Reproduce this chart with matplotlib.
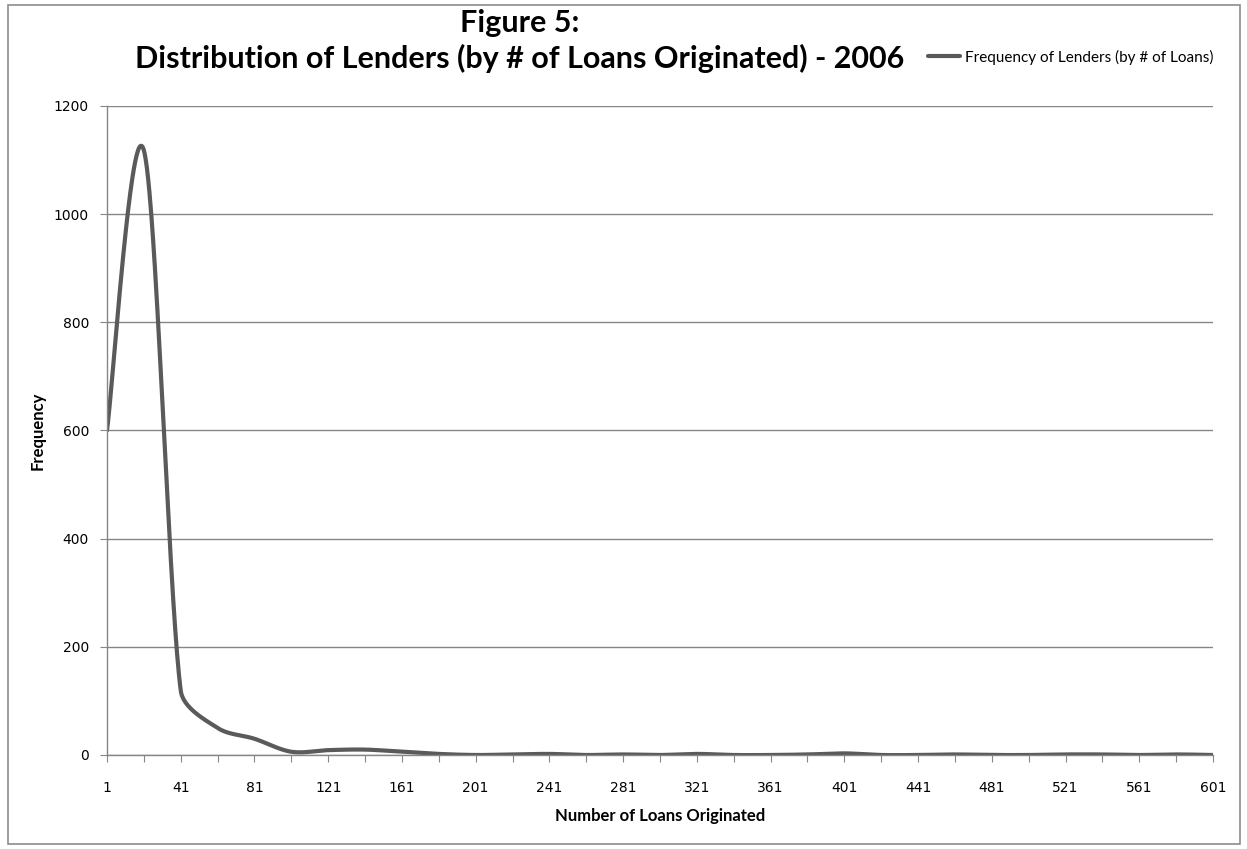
import numpy as np
import matplotlib
matplotlib.use("Agg")
import matplotlib.pyplot as plt
from matplotlib.patches import Rectangle

# Bins of loans originated (lower bound of each 20-loan bin)
bins = list(range(1, 602, 20))
# Number of lenders in each bin
frequency = [600, 1118, 119, 50, 30, 6, 9, 10, 6, 2,
             0, 1, 2, 0, 1, 0, 2, 0, 0, 1,
             3, 0, 0, 1, 0, 0, 1, 1, 0, 1, 0]

title_lines = ["Figure 5:", "Distribution of Lenders (by # of Loans Originated) - 2006"]
series_name = "Frequency of Lenders (by # of Loans)"
x_title = "Number of Loans Originated"
y_title = "Frequency"

W, H = 1247, 849
left, right, top, bottom = 107, 1213, 106, 755
Y_MAX = 1200


def smooth_curve(xs, ys, sx, sy, steps=60):
    """Catmull-Rom style Bezier through every point, computed in screen units;
    each handle is capped at a third of its own segment to avoid overshoot."""
    px = np.asarray(xs, float) * sx
    py = np.asarray(ys, float) * sy
    pts = np.column_stack([px, py])
    n = len(pts)
    tang = np.array([(pts[min(i + 1, n - 1)] - pts[max(i - 1, 0)]) / 6.0 for i in range(n)])

    def capped(vec, limit):
        ln = np.hypot(*vec)
        return vec if ln <= limit or ln == 0 else vec * (limit / ln)

    t = np.linspace(0, 1, steps, endpoint=False)[:, None]
    out = []
    for i in range(n - 1):
        p1, p2 = pts[i], pts[i + 1]
        seg = np.hypot(*(p2 - p1))
        c1 = p1 + capped(tang[i], seg / 3.0)
        c2 = p2 - capped(tang[i + 1], seg / 3.0)
        b = (1 - t) ** 3 * p1 + 3 * (1 - t) ** 2 * t * c1 + 3 * (1 - t) * t ** 2 * c2 + t ** 3 * p2
        out.append(b)
    out.append(pts[-1][None, :])
    out = np.vstack(out)
    return out[:, 0] / sx, out[:, 1] / sy


fig = plt.figure(figsize=(W / 100, H / 100), dpi=100)
fig.patch.set_facecolor("white")

# outer chart border
fig.add_artist(Rectangle((8 / W, 5 / H), 1232 / W, 839 / H, transform=fig.transFigure,
                         fill=False, edgecolor="#8c8c8c", linewidth=1.2))

ax = fig.add_axes([left / W, 1 - bottom / H, (right - left) / W, (bottom - top) / H])

pos = np.arange(len(bins))
px_per_cat = (right - left) / (len(bins) - 1)
px_per_unit = (bottom - top) / Y_MAX
cx, cy = smooth_curve(pos, frequency, px_per_cat, px_per_unit)
ax.plot(cx, cy, color="#5a5a5a", linewidth=3.0, solid_capstyle="round",
        solid_joinstyle="round", label=series_name)

ax.set_xlim(0, len(bins) - 1)
ax.set_ylim(0, Y_MAX)
ax.set_yticks(range(0, Y_MAX + 1, 200))
ax.set_xticks(pos)
ax.set_xticklabels([str(b) if i % 2 == 0 else "" for i, b in enumerate(bins)],
                   fontfamily="DejaVu Sans", fontsize=10)
for lbl in ax.get_yticklabels():
    lbl.set_fontfamily("DejaVu Sans")
    lbl.set_fontsize(10)

ax.grid(axis="y", color="#868686", linewidth=1.0)
ax.set_axisbelow(True)
for s in ["top", "right"]:
    ax.spines[s].set_visible(False)
for s in ["left", "bottom"]:
    ax.spines[s].set_color("#868686")
    ax.spines[s].set_linewidth(1.0)
ax.tick_params(axis="x", direction="out", length=5, color="#868686", pad=14)
ax.tick_params(axis="y", direction="out", length=5, color="#868686", pad=8)

ax.set_xlabel(x_title, fontfamily="Lato", fontweight="bold", fontsize=12, labelpad=9)
ax.set_ylabel(y_title, fontfamily="Lato", fontweight="bold", fontsize=12, labelpad=6)

fig.text(520 / W, 1 - 23 / H, title_lines[0], ha="center", va="center",
         fontfamily="Lato", fontweight="bold", fontsize=22)
fig.text(520 / W, 1 - 58 / H, title_lines[1], ha="center", va="center",
         fontfamily="Lato", fontweight="bold", fontsize=22)

fig.legend(loc="center left", bbox_to_anchor=(928 / W, 1 - 57 / H), frameon=False,
           prop={"family": "Lato", "size": 11}, handlelength=2.1, handletextpad=0.35,
           borderpad=0, borderaxespad=0)

fig.savefig("out.png", dpi=100, facecolor="white")
